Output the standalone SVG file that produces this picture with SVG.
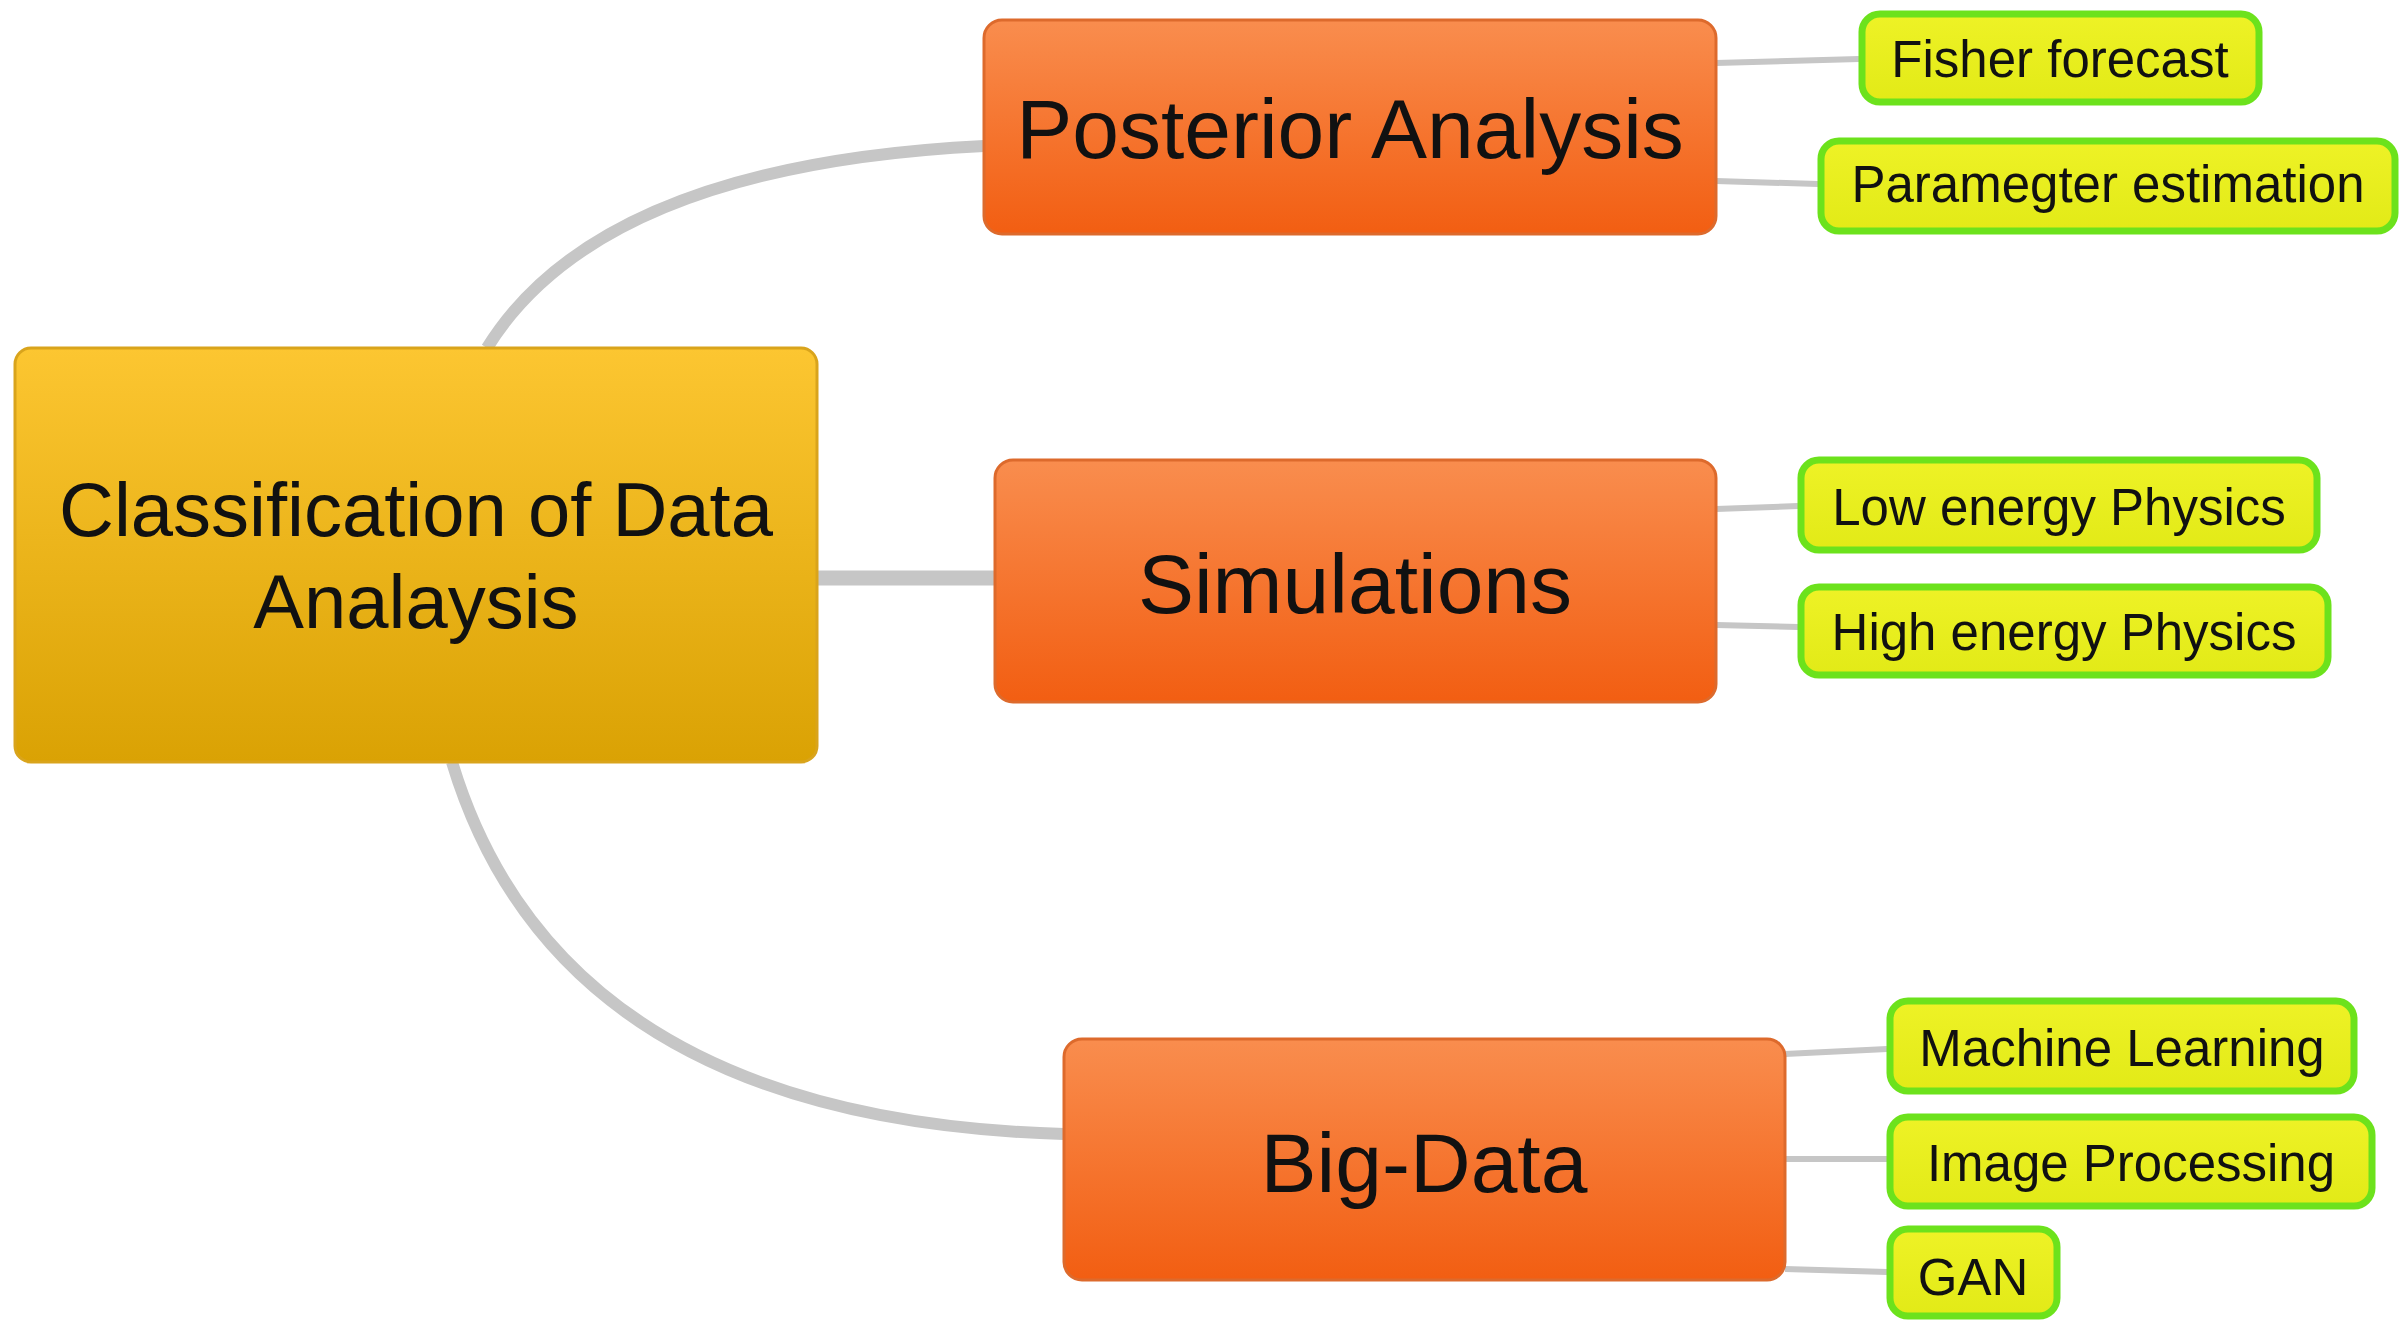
<svg xmlns="http://www.w3.org/2000/svg" width="2403" height="1323" viewBox="0 0 2403 1323">
<defs>
<linearGradient id="gRoot" x1="0" y1="0" x2="0" y2="1">
<stop offset="0" stop-color="#fcc631"/>
<stop offset="1" stop-color="#daa204"/>
</linearGradient>
<linearGradient id="gMain" x1="0" y1="0" x2="0" y2="1">
<stop offset="0" stop-color="#f98d4e"/>
<stop offset="1" stop-color="#f25e12"/>
</linearGradient>
<linearGradient id="gLeaf" x1="0" y1="0" x2="0" y2="1">
<stop offset="0" stop-color="#eef226"/>
<stop offset="1" stop-color="#e2ea17"/>
</linearGradient>
</defs>
<style>
text{font-family:"Liberation Sans",Arial,sans-serif;fill:#111;text-anchor:middle}
.root rect{fill:url(#gRoot);stroke:#d9a41c;stroke-width:3}
.main rect{fill:url(#gMain);stroke:#dd6a2c;stroke-width:3}
.leaf rect{fill:url(#gLeaf);stroke:#6ce21c;stroke-width:7}
.root text{font-size:76px}
.main text{font-size:84px}
.leaf text{font-size:51px}
.c{fill:none;stroke:#c6c6c6;stroke-linecap:butt}
.thick{stroke-width:12}
.thin{stroke-width:6}
</style>
<rect width="2403" height="1323" fill="#ffffff"/>
<g id="connectors">
<path class="c thick" d="M487 348 Q600 165 984 146"/>
<path class="c" stroke-width="15" d="M817 578 L995 578"/>
<path class="c thick" d="M452 762 Q560 1120 1064 1134"/>
<path class="c thin" d="M1716 63 L1859 59"/>
<path class="c thin" d="M1716 181 L1818 184"/>
<path class="c thin" d="M1716 509 L1798 506"/>
<path class="c thin" d="M1716 625 L1798 627"/>
<path class="c thin" d="M1785 1054 L1887 1049"/>
<path class="c thin" d="M1785 1159 L1887 1159"/>
<path class="c thin" d="M1785 1269 L1887 1272"/>
</g>
<g id="root" class="root">
<rect x="15" y="348" width="802" height="414" rx="16"/>
<text x="416" y="536">Classification of Data</text>
<text x="416" y="628">Analaysis</text>
</g>
<g id="posterior" class="main">
<rect x="984" y="20" width="732" height="214" rx="18"/>
<text x="1350" y="158">Posterior Analysis</text>
</g>
<g id="simulations" class="main">
<rect x="995" y="460" width="721" height="242" rx="18"/>
<text x="1355" y="613">Simulations</text>
</g>
<g id="bigdata" class="main">
<rect x="1064" y="1039" width="721" height="241" rx="18"/>
<text x="1424" y="1192">Big-Data</text>
</g>
<g id="fisher" class="leaf">
<rect x="1862" y="14" width="397" height="88" rx="18"/>
<text x="2060" y="77">Fisher forecast</text>
</g>
<g id="param" class="leaf">
<rect x="1821" y="141" width="574" height="90" rx="18"/>
<text x="2108" y="202">Paramegter estimation</text>
</g>
<g id="low" class="leaf">
<rect x="1801" y="460" width="516" height="90" rx="18"/>
<text x="2059" y="525">Low energy Physics</text>
</g>
<g id="high" class="leaf">
<rect x="1801" y="587" width="527" height="88" rx="18"/>
<text x="2064" y="650">High energy Physics</text>
</g>
<g id="ml" class="leaf">
<rect x="1890" y="1001" width="464" height="90" rx="18"/>
<text x="2122" y="1066">Machine Learning</text>
</g>
<g id="ip" class="leaf">
<rect x="1890" y="1117" width="482" height="89" rx="18"/>
<text x="2131" y="1181">Image Processing</text>
</g>
<g id="gan" class="leaf">
<rect x="1890" y="1229" width="167" height="87" rx="18"/>
<text x="1973" y="1295">GAN</text>
</g>
</svg>
